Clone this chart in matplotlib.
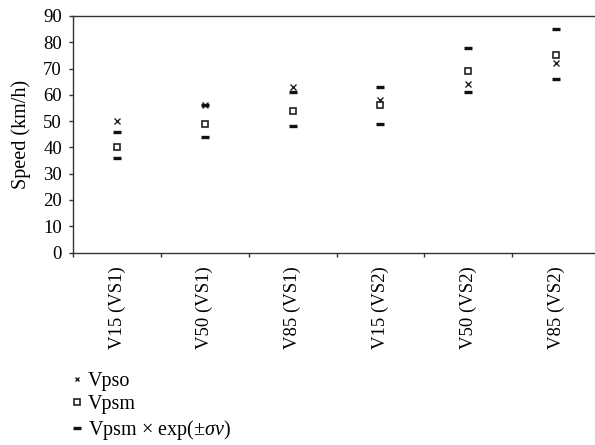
import matplotlib
matplotlib.use("Agg")
import matplotlib.pyplot as plt
import numpy as np

# 값은 그림에서 읽은 추정치
categories = ["V15 (VS1)", "V50 (VS1)", "V85 (VS1)", "V15 (VS2)", "V50 (VS2)", "V85 (VS2)"]
vpso = [50, 56, 63, 58, 64, 72]
vpsm = [40, 49, 54, 56, 69, 75]
upper = [46, 56, 61, 63, 78, 85]
lower = [36, 44, 48, 49, 61, 66]

plt.rcParams["font.family"] = ["Liberation Serif", "DejaVu Serif"]
plt.rcParams["mathtext.fontset"] = "custom"
plt.rcParams["mathtext.it"] = "Liberation Serif:italic"
plt.rcParams["mathtext.rm"] = "Liberation Serif"

fig = plt.figure(figsize=(5.95, 4.45), dpi=100)
ax = fig.add_axes([73 / 595, 1 - 252.5 / 445, 527 / 595, 236.5 / 445])

x = np.arange(len(categories))
ax.plot(x, vpso, linestyle="none", marker="x", markersize=4, color="#222222",
        markeredgewidth=1.0, label="Vpso")
ax.plot(x, vpsm, linestyle="none", marker="s", markersize=4.5, markerfacecolor="white",
        markeredgecolor="#222222", markeredgewidth=1.2, label="Vpsm")
ax.plot(x, upper, linestyle="none", marker="_", markersize=6, color="#111111",
        markeredgewidth=2.4, label=r"Vpsm $\times$ exp($\pm\sigma\nu$)")
ax.plot(x, lower, linestyle="none", marker="_", markersize=6, color="#111111",
        markeredgewidth=2.4)

ax.set_xlim(-0.5, len(categories) - 0.5)
ax.set_ylim(0, 90)
ax.set_yticks(range(0, 91, 10))
ax.set_xticks(x)
ax.set_xticklabels(categories, rotation=90, fontsize=13.5)
ax.tick_params(axis="x", which="major", length=0, pad=10)
ax.set_xticks(np.arange(-0.5, len(categories)), minor=True)
ax.tick_params(axis="x", which="minor", length=3, width=1, color="#333333", direction="out")
ax.tick_params(axis="y", length=3, width=1, color="#333333", labelsize=13.5, pad=5)
ax.set_ylabel("Speed (km/h)", fontsize=14.5, labelpad=9)

for s in ax.spines.values():
    s.set_color("#333333")
    s.set_linewidth(1.0)

fig.legend(loc="upper left", bbox_to_anchor=(72 / 595, 1 - 372 / 445), frameon=False,
           fontsize=14.5, handlelength=0.5, handletextpad=0.3, labelspacing=0.2,
           markerscale=0.85, borderaxespad=0, borderpad=0)

fig.savefig("out.png", dpi=100)
